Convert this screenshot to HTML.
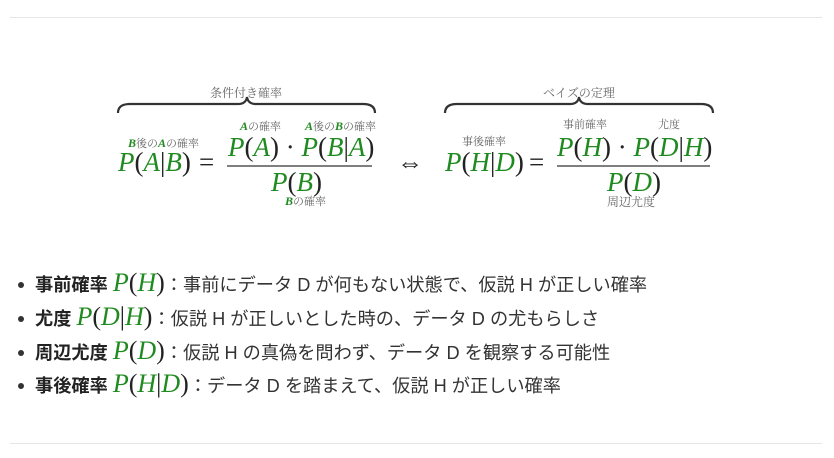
<!DOCTYPE html>
<html><head><meta charset="utf-8"><style>
body{margin:0;width:834px;height:458px;background:#fff;position:relative;overflow:hidden;font-family:"Liberation Sans","Noto Sans CJK JP",sans-serif;}
.a{position:absolute;white-space:nowrap;}
.m{font-family:"Liberation Serif","Noto Serif CJK SC",serif;font-size:27px;color:#222;line-height:1;}
.m i{color:#1f8a1f;}
.s{font-family:"Liberation Serif","Noto Serif CJK SC",serif;font-size:11px;color:#666;line-height:1;}
.s b{color:#1f8a1f;font-style:italic;font-size:12px;}
.lab{font-family:"Liberation Serif","Noto Serif CJK SC",serif;font-size:12px;color:#666;}
.li{position:absolute;left:18px;font-size:18.2px;color:#333;white-space:nowrap;line-height:1;}
.li .d{display:inline-block;width:6px;height:6px;border-radius:3px;background:#333;margin:0 11px 3px 0;vertical-align:middle;}
.li b{color:#222;}
.li .m{font-size:26px;}
.hr{position:absolute;left:10px;width:812px;height:1px;background:#e6e6e6;}
</style></head><body>
<div class="hr" style="top:17px"></div>
<div class="hr" style="top:443px"></div>
<svg class="a" style="left:0;top:0" width="834" height="230">
<path d="M118,113 Q118,104 130,104 L238,104 Q246,104 247,97 Q248,104 256,104 L363,104 Q375,104 375,113" fill="none" stroke="#333" stroke-width="2.2"/>
<path d="M445,113 Q445,104 457,104 L570,104 Q578,104 579,97 Q580,104 588,104 L701,104 Q713,104 713,113" fill="none" stroke="#333" stroke-width="2.2"/>
<line x1="227" y1="166" x2="372" y2="166" stroke="#333" stroke-width="1.3"/>
<line x1="557" y1="166" x2="710" y2="166" stroke="#333" stroke-width="1.3"/>
</svg>
<div class="a lab" style="left:210px;top:84px">条件付き確率</div>
<div class="a lab" style="left:543px;top:84px">ベイズの定理</div>

<div class="a s" style="left:128px;top:137px"><b>B</b>後の<b>A</b>の確率</div>
<div class="a m" style="left:118px;top:149px"><i>P</i>(<i>A</i>|<i>B</i>)</div>
<div class="a m" style="left:199px;top:149px">=</div>
<div class="a s" style="left:240px;top:120px"><b>A</b>の確率</div>
<div class="a s" style="left:305px;top:120px"><b>A</b>後の<b>B</b>の確率</div>
<div class="a m" style="left:228px;top:134px"><i>P</i>(<i>A</i>) · <i>P</i>(<i>B</i>|<i>A</i>)</div>
<div class="a m" style="left:271px;top:169px"><i>P</i>(<i>B</i>)</div>
<div class="a s" style="left:285px;top:195px"><b>B</b>の確率</div>
<div class="a m" style="left:397px;top:150px;font-size:26px">⇔</div>

<div class="a s" style="left:462px;top:137px">事後確率</div>
<div class="a m" style="left:445px;top:149px"><i>P</i>(<i>H</i>|<i>D</i>)</div>
<div class="a m" style="left:529px;top:149px">=</div>
<div class="a s" style="left:563px;top:120px">事前確率</div>
<div class="a s" style="left:658px;top:120px">尤度</div>
<div class="a m" style="left:557px;top:134px"><i>P</i>(<i>H</i>) · <i>P</i>(<i>D</i>|<i>H</i>)</div>
<div class="a m" style="left:607px;top:169px"><i>P</i>(<i>D</i>)</div>
<div class="a lab" style="left:607px;top:193px">周辺尤度</div>

<div class="li" style="top:270px"><span class="d"></span><b>事前確率</b> <span class="m"><i>P</i>(<i>H</i>)</span>：事前にデータ D が何もない状態で、仮説 H が正しい確率</div>
<div class="li" style="top:304px"><span class="d"></span><b>尤度</b> <span class="m"><i>P</i>(<i>D</i>|<i>H</i>)</span>：仮説 H が正しいとした時の、データ D の尤もらしさ</div>
<div class="li" style="top:338px"><span class="d"></span><b>周辺尤度</b> <span class="m"><i>P</i>(<i>D</i>)</span>：仮説 H の真偽を問わず、データ D を観察する可能性</div>
<div class="li" style="top:371px"><span class="d"></span><b>事後確率</b> <span class="m"><i>P</i>(<i>H</i>|<i>D</i>)</span>：データ D を踏まえて、仮説 H が正しい確率</div>
</body></html>
